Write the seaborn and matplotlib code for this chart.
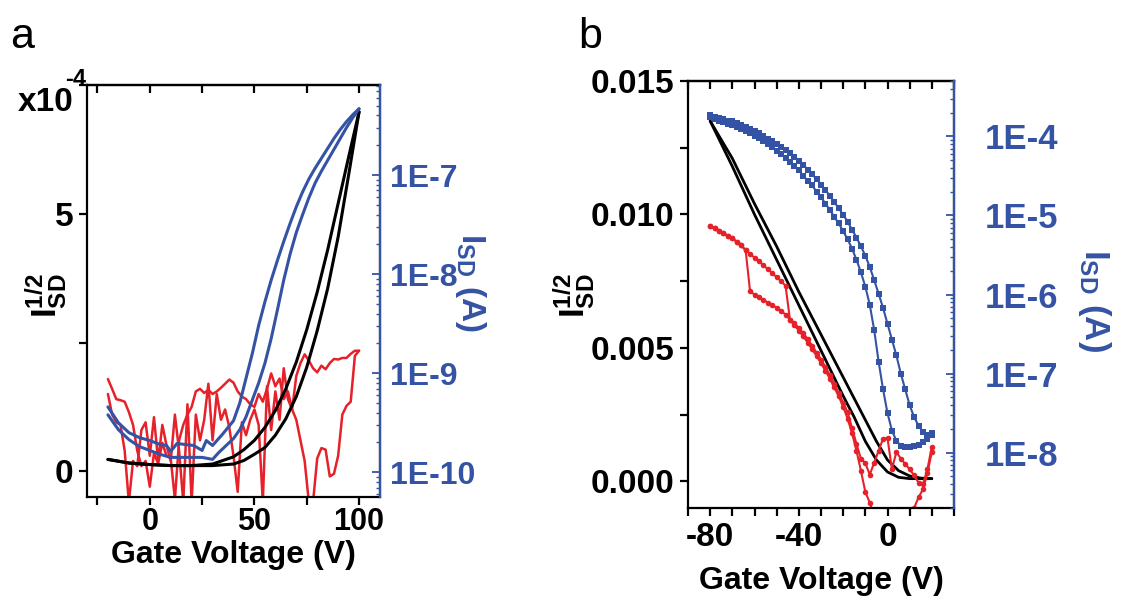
import numpy as np
import matplotlib
matplotlib.use('Agg')
import matplotlib.pyplot as plt
from matplotlib.ticker import MultipleLocator, LogLocator, FuncFormatter, NullFormatter, FormatStrFormatter
import seaborn as sns

sns.set_style('ticks')
plt.rcParams['font.family'] = ['Liberation Sans', 'DejaVu Sans']
plt.rcParams['font.weight'] = 'bold'
plt.rcParams['axes.labelweight'] = 'bold'
plt.rcParams['axes.unicode_minus'] = False
for k in ['text.color', 'axes.labelcolor', 'xtick.color', 'ytick.color', 'axes.edgecolor']:
    plt.rcParams[k] = 'black'
plt.rcParams['mathtext.fontset'] = 'custom'
plt.rcParams['mathtext.rm'] = 'Liberation Sans:bold'
plt.rcParams['mathtext.bf'] = 'Liberation Sans:bold'
plt.rcParams['mathtext.it'] = 'Liberation Sans:bold'

BLUE = '#3553a4'
RED = '#e62129'

# ---------------- panel a ----------------
# sqrt(I_SD) in units of 1e-4, two sweeps
a_black_v = [-20, -10, 0, 10, 20, 30, 40, 45, 50, 55, 60, 65, 70, 75, 80, 85, 90, 95, 100]
a_black_up = [0.23, 0.16, 0.13, 0.11, 0.11, 0.14, 0.28, 0.42, 0.60, 0.85, 1.18, 1.60, 2.12, 2.75, 3.48, 4.30, 5.20, 6.10, 6.98]
a_black_dn = [0.23, 0.16, 0.13, 0.11, 0.11, 0.11, 0.14, 0.21, 0.33, 0.46, 0.70, 1.02, 1.45, 2.02, 2.73, 3.55, 4.55, 5.75, 6.98]

# log10(I_SD) for the two sweeps
a_blue1_v = [-20, -15, -10, -5, 0, 5, 8, 10, 13, 17, 21, 25, 27, 30, 35, 40, 43, 46, 49, 52, 55, 58,
             61, 64, 67, 70, 73, 76, 79, 82, 85, 88, 91, 94, 97, 100]
a_blue1_log = [-9.34, -9.50, -9.60, -9.65, -9.68, -9.72, -9.73, -9.79, -9.71, -9.72, -9.73, -9.78, -9.68,
               -9.73, -9.61, -9.48, -9.30, -9.05, -8.80, -8.52, -8.28, -8.06, -7.86, -7.67, -7.49, -7.32,
               -7.17, -7.04, -6.93, -6.83, -6.73, -6.63, -6.54, -6.46, -6.39, -6.33]
a_blue2_v = [-20, -15, -10, -5, 0, 5, 10, 15, 20, 25, 30, 33, 36, 40, 43, 46, 49, 52, 55, 58, 61, 64,
             67, 70, 73, 76, 79, 82, 85, 88, 91, 94, 97, 100]
a_blue2_log = [-9.42, -9.57, -9.67, -9.74, -9.78, -9.82, -9.85, -9.85, -9.85, -9.85, -9.87, -9.80, -9.74,
               -9.66, -9.57, -9.44, -9.27, -9.10, -8.90, -8.65, -8.36, -8.06, -7.80, -7.58, -7.40, -7.23,
               -7.08, -6.96, -6.85, -6.74, -6.63, -6.52, -6.42, -6.33]

# noisy red traces (left axis)
a_red_v = list(range(-20, 101, 2))
a_red_up = [1.79, 1.60, 1.40, 1.38, 1.35, 1.15, 0.90, 0.40, 0.10, 0.20, -0.30, 0.35, 0.15, 0.55, 0.30, 0.25,
            -0.55, 0.60, 0.90, 1.10, 1.25, 1.55, 1.60, 1.52, 1.58, 1.50, 1.55, 1.62, 1.70, 1.78, 1.72, 1.55,
            1.45, 1.40, 1.30, 1.25, 1.50, 1.35, 1.60, 1.90, 1.65, 1.80, 1.40, 1.55, 1.20, 1.85, 2.10, 2.27,
            2.15, 2.00, 1.92, 2.05, 1.98, 2.10, 2.18, 2.17, 2.20, 2.20, 2.28, 2.34, 2.34]
a_red_lo = [1.50, 1.10, 0.95, 0.90, 0.40, -0.60, 0.20, 0.10, 0.80, 0.95, 0.30, 1.05, 0.20, 0.90, 0.50, 0.20,
            1.10, 0.40, -0.60, 1.30, -0.60, 1.10, 0.60, 1.00, 1.70, 0.60, 1.50, 1.00, 1.20, 0.85, 0.30, -0.40,
            0.95, 0.70, 1.00, 1.20, 0.90, -0.60, 1.65, 0.80, 1.55, 1.00, 2.00, 1.40, 1.20, 1.00, 0.60, 0.20,
            -0.60, -0.60, 0.25, 0.45, 0.42, -0.10, -0.05, 0.30, 1.10, 1.27, 1.35, 2.24, 2.34]

# ---------------- panel b ----------------
b_black_v = [-80, -75, -70, -65, -60, -55, -50, -45, -40, -35, -30, -25, -20, -15, -10, -5, 0, 5, 10, 15, 20]
b_black_1 = [0.0135, 0.01265, 0.0118, 0.0109, 0.0100, 0.00915, 0.0083, 0.00745, 0.0066, 0.00575, 0.0049,
             0.00405, 0.0032, 0.0024, 0.0015, 0.0008, 0.00035, 0.00015, 0.0001, 0.0001, 0.0001]
b_black_2 = [0.0135, 0.0128, 0.0121, 0.01125, 0.0104, 0.0096, 0.0088, 0.00795, 0.0071, 0.0063, 0.0055,
             0.0047, 0.0039, 0.0031, 0.0023, 0.0015, 0.0008, 0.0004, 0.0002, 0.00012, 0.0001]

b_v = list(range(-80, 21, 2))
b_blue_out_log = [-3.73, -3.75, -3.77, -3.78, -3.80, -3.81, -3.83, -3.86, -3.88, -3.91, -3.93, -3.96, -3.99,
                  -4.03, -4.06, -4.10, -4.13, -4.17, -4.21, -4.26, -4.31, -4.36, -4.42, -4.48, -4.54, -4.61,
                  -4.68, -4.75, -4.83, -4.91, -4.99, -5.08, -5.18, -5.28, -5.39, -5.51, -5.65, -5.82, -5.99,
                  -6.17, -6.37, -6.57, -6.77, -7.00, -7.20, -7.40, -7.55, -7.66, -7.74, -7.78, -7.75]
b_blue_in_log = [-3.76, -3.78, -3.80, -3.82, -3.84, -3.86, -3.88, -3.91, -3.93, -3.96, -3.99, -4.02, -4.06,
                 -4.10, -4.14, -4.18, -4.22, -4.27, -4.32, -4.37, -4.43, -4.50, -4.56, -4.62, -4.70, -4.77,
                 -4.85, -4.93, -5.02, -5.10, -5.20, -5.30, -5.42, -5.56, -5.72, -5.90, -6.13, -6.45, -6.85,
                 -7.20, -7.50, -7.72, -7.85, -7.91, -7.93, -7.93, -7.92, -7.90, -7.87, -7.83, -7.78]
b_red_a = [0.00956, 0.00948, 0.00939, 0.00930, 0.00920, 0.00910, 0.00898, 0.00884, 0.00866, 0.00712, 0.00700,
           0.00690, 0.00680, 0.00670, 0.00660, 0.00650, 0.00638, 0.00625, 0.00606, 0.00585, 0.00565, 0.00543,
           0.00520, 0.00495, 0.00470, 0.00443, 0.00415, 0.00385, 0.00352, 0.00318, 0.00280, 0.00235, 0.00180,
           0.00115, 0.00040, -0.00040, -0.00080, -0.00130, -0.00150, -0.00160, -0.00170, -0.00170, -0.00160,
           -0.00150, -0.00140, -0.00130, -0.00100, -0.00060, -0.00030, 0.00030, 0.00110]
b_red_b = [0.00956, 0.00948, 0.00939, 0.00930, 0.00920, 0.00910, 0.00898, 0.00884, 0.00866, 0.00852, 0.00838,
           0.00824, 0.00810, 0.00795, 0.00780, 0.00765, 0.00750, 0.00733, 0.00606, 0.00592, 0.00575, 0.00555,
           0.00533, 0.00508, 0.00482, 0.00456, 0.00428, 0.00398, 0.00365, 0.00330, 0.00295, 0.00258, 0.00200,
           0.00140, 0.00085, 0.00068, 0.00025, 0.00070, 0.00115, 0.00160, 0.00162, 0.00045, 0.00110, 0.00085,
           0.00065, 0.00045, 0.00022, -0.00005, -0.00010, 0.00045, 0.00130]


def trace(ax, x, y, color, lw=1.8, marker=None, ms=0):
    sns.lineplot(x=x, y=y, ax=ax, color=color, lw=lw, sort=False, estimator=None,
                 marker=marker, markersize=ms, markeredgewidth=0)


def log_twin(ax, lo, hi, size, pad):
    ax2 = ax.twinx()
    ax2.set_yscale('log')
    ax2.set_ylim(10 ** lo, 10 ** hi)
    for s in ['left', 'top', 'bottom']:
        ax2.spines[s].set_visible(False)
    ax2.spines['right'].set_color(BLUE)
    ax2.spines['right'].set_linewidth(1.6)
    ax2.yaxis.set_major_locator(LogLocator(base=10, numticks=20))
    ax2.yaxis.set_minor_locator(LogLocator(base=10, subs=np.arange(2, 10), numticks=20))
    ax2.yaxis.set_major_formatter(FuncFormatter(lambda v, p: '1E%d' % round(np.log10(v))))
    ax2.yaxis.set_minor_formatter(NullFormatter())
    ax2.tick_params(axis='y', which='major', direction='in', length=6, width=1.3, color=BLUE,
                    labelcolor=BLUE, labelsize=size, pad=pad)
    ax2.tick_params(axis='y', which='minor', direction='in', length=3, width=1, color=BLUE)
    return ax2


def frame(ax, xmaj, xmin, ymaj, ymin, xsize, ysize, xpad):
    ax.xaxis.set_major_locator(MultipleLocator(xmaj))
    ax.xaxis.set_minor_locator(MultipleLocator(xmin))
    ax.yaxis.set_major_locator(MultipleLocator(ymaj))
    ax.yaxis.set_minor_locator(MultipleLocator(ymin))
    ax.tick_params(which='both', direction='out', length=6, width=1.6)
    ax.tick_params(axis='x', labelsize=xsize, pad=xpad)
    ax.tick_params(axis='y', labelsize=ysize, pad=4)
    for s in ax.spines.values():
        s.set_linewidth(1.6)
    top = ax.secondary_xaxis('top')
    top.xaxis.set_major_locator(MultipleLocator(xmaj))
    top.xaxis.set_minor_locator(MultipleLocator(xmin))
    top.xaxis.set_major_formatter(NullFormatter())
    top.tick_params(which='both', direction='in', length=6, width=1.6)
    top.spines['top'].set_linewidth(1.6)


fig = plt.figure(figsize=(11.25, 6.06), dpi=100)

# panel a
axa = fig.add_axes([87 / 1125, 1 - 497 / 606, 293 / 1125, 412 / 606])
trace(axa, a_red_v, a_red_lo, RED, lw=1.8)
trace(axa, a_red_v, a_red_up, RED, lw=1.8)
trace(axa, a_black_v, a_black_up, 'black', lw=2.2)
trace(axa, a_black_v, a_black_dn, 'black', lw=2.2)
axa.set_xlim(-30, 110)
axa.set_ylim(-0.5, 7.5)
frame(axa, 50, 25, 5, 2.5, 22, 24, 1)
axa.set_yticks([0, 5])
axa.set_xlabel('Gate Voltage (V)', fontsize=23)
axa.xaxis.set_label_coords(0.5, -0.104)
axa.set_ylabel('')
axa2 = log_twin(axa, -10.25, -6.09, 23, 7)
trace(axa2, a_blue1_v, [10 ** v for v in a_blue1_log], BLUE, lw=2.2)
trace(axa2, a_blue2_v, [10 ** v for v in a_blue2_log], BLUE, lw=2.2)
axa2.set_ylim(10 ** -10.25, 10 ** -6.09)
axa2.set_ylabel('')

# panel b
axb = fig.add_axes([688 / 1125, 1 - 508 / 606, 266 / 1125, 427 / 606])
trace(axb, b_black_v, b_black_1, 'black', lw=2)
trace(axb, b_black_v, b_black_2, 'black', lw=2)
trace(axb, b_v, b_red_a, RED, lw=1.5, marker='o', ms=4)
trace(axb, b_v, b_red_b, RED, lw=1.5, marker='o', ms=4)
axb.set_xlim(-90, 30)
axb.set_ylim(-0.001, 0.015)
frame(axb, 40, 10, 0.005, 0.0025, 24, 24, 4)
axb.yaxis.set_major_formatter(FormatStrFormatter('%.3f'))
axb.set_xlabel('Gate Voltage (V)', fontsize=23)
axb.xaxis.set_label_coords(0.5, -0.135)
axb.set_ylabel('')
axb2 = log_twin(axb, -8.70, -3.30, 25, 22)
trace(axb2, b_v, [10 ** v for v in b_blue_out_log], BLUE, lw=1.5, marker='s', ms=4)
trace(axb2, b_v, [10 ** v for v in b_blue_in_log], BLUE, lw=1.5, marker='s', ms=4)
axb2.set_ylim(10 ** -8.70, 10 ** -3.30)
axb2.set_ylabel('')

# axis titles and panel letters
sq = r'$\mathbf{I_{SD}^{1/2}}$'
fig.text(45 / 1125, 1 - 296 / 606, sq, fontsize=25, rotation=90, ha='center', va='center')
fig.text(574 / 1125, 1 - 296 / 606, sq, fontsize=25, rotation=90, ha='center', va='center')
isd = r'$\mathbf{I_{SD}}$ (A)'
fig.text(470 / 1125, 1 - 282 / 606, isd, fontsize=24, rotation=270, ha='center', va='center', color=BLUE)
fig.text(1095 / 1125, 1 - 300 / 606, isd, fontsize=25, rotation=270, ha='center', va='center', color=BLUE)
fig.text(18 / 1125, 1 - 111 / 606, 'x10', fontsize=24, ha='left', va='baseline')
fig.text(65 / 1125, 1 - 86 / 606, '-4', fontsize=17, ha='left', va='baseline')
fig.text(10 / 1125, 1 - 48 / 606, 'a', fontsize=31, fontweight='normal', ha='left', va='baseline')
fig.text(578 / 1125, 1 - 48 / 606, 'b', fontsize=31, fontweight='normal', ha='left', va='baseline')

fig.savefig('out.png', dpi=100)
